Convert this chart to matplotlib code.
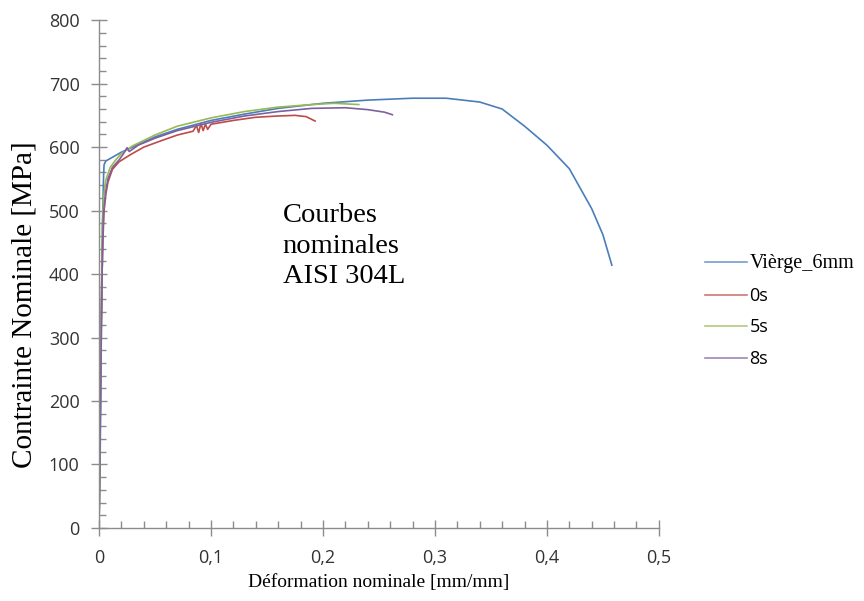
import matplotlib
matplotlib.use("Agg")
import matplotlib.pyplot as plt
from matplotlib.ticker import MultipleLocator, FuncFormatter

# Vièrge_6mm
x_vierge = [0, 0.001, 0.002, 0.003, 0.004, 0.0045, 0.006, 0.01, 0.015, 0.02, 0.025,
            0.035, 0.05, 0.07, 0.1, 0.13, 0.16, 0.2, 0.24, 0.28, 0.31, 0.34, 0.36,
            0.38, 0.4, 0.42, 0.44, 0.45, 0.458]
y_vierge = [0, 110, 300, 470, 550, 572, 578, 582, 587, 592, 596,
            604, 616, 628, 642, 652, 661, 669, 674, 677, 677, 671, 660,
            633, 603, 566, 503, 462, 414]

# 0s
x_0s = [0, 0.0015, 0.0025, 0.003, 0.0035, 0.0045, 0.006, 0.008, 0.012, 0.018, 0.028,
        0.04, 0.057, 0.07, 0.084, 0.087, 0.089, 0.091, 0.093, 0.095, 0.097, 0.1,
        0.12, 0.14, 0.16, 0.175, 0.185, 0.193]
y_0s = [0, 250, 400, 415, 455, 500, 525, 545, 565, 577, 588,
        600, 611, 619, 625, 634, 623, 637, 626, 636, 628, 636,
        642, 647, 649, 650, 648, 641]

# 5s
x_5s = [0, 0.002, 0.003, 0.004, 0.006, 0.01, 0.015, 0.02, 0.03, 0.05, 0.07, 0.1,
        0.13, 0.16, 0.19, 0.21, 0.232]
y_5s = [0, 330, 470, 520, 548, 568, 580, 590, 602, 619, 633, 646,
        656, 663, 667, 669, 667]

# 8s
x_8s = [0, 0.002, 0.003, 0.004, 0.006, 0.008, 0.012, 0.018, 0.022, 0.025, 0.027,
        0.035, 0.05, 0.07, 0.1, 0.13, 0.16, 0.19, 0.22, 0.24, 0.255, 0.262]
y_8s = [0, 300, 430, 495, 530, 550, 568, 580, 590, 599, 593,
        603, 614, 626, 639, 649, 656, 661, 662, 659, 655, 651]

fig = plt.figure(figsize=(8.64, 6.01), dpi=100)
ax = fig.add_axes([0.1146, 0.1215, 0.648, 0.845])

ax.plot(x_vierge, y_vierge, color="#4A7EBB", lw=1.2, label="Vièrge_6mm")
ax.plot(x_0s, y_0s, color="#BE4B48", lw=1.2, label="0s")
ax.plot(x_5s, y_5s, color="#98B954", lw=1.2, label="5s")
ax.plot(x_8s, y_8s, color="#7D60A0", lw=1.2, label="8s")

ax.set_xlim(0, 0.5)
ax.set_ylim(0, 800)
for s in ["top", "right"]:
    ax.spines[s].set_visible(False)
for s in ["left", "bottom"]:
    ax.spines[s].set_color("#8c8c8c")
    ax.spines[s].set_linewidth(1)

ax.xaxis.set_major_locator(MultipleLocator(0.1))
ax.xaxis.set_minor_locator(MultipleLocator(0.02))
ax.yaxis.set_major_locator(MultipleLocator(100))
ax.yaxis.set_minor_locator(MultipleLocator(20))
ax.xaxis.set_major_formatter(FuncFormatter(lambda v, p: ("%g" % round(v, 2)).replace(".", ",")))
ax.tick_params(which="major", direction="inout", length=12, color="#8c8c8c", width=1,
               labelsize=13, labelcolor="#333333")
ax.tick_params(which="minor", direction="in", length=5, color="#8c8c8c", width=1)
ax.tick_params(axis="x", pad=9)
ax.tick_params(axis="y", pad=8)
for lab in ax.get_xticklabels() + ax.get_yticklabels():
    lab.set_family("Open Sans")

ax.set_xlabel("Déformation nominale [mm/mm]", family="Liberation Serif", fontsize=14, labelpad=5)
ax.set_ylabel("Contrainte Nominale [MPa]", family="Liberation Serif", fontsize=21)
ax.yaxis.set_label_coords(-0.11, 0.439)

ax.text(0.328, 0.64, "Courbes\nnominales\nAISI 304L", transform=ax.transAxes,
        family="Liberation Serif", fontsize=20.5, linespacing=1.3, va="top")

leg = ax.legend(loc="center left", bbox_to_anchor=(1.07, 0.427), frameon=False,
                handlelength=2.3, labelspacing=0.75, handletextpad=0.15,
                borderaxespad=0, prop={"size": 13})
for i, t in enumerate(leg.get_texts()):
    if i == 0:
        t.set_family("Liberation Serif")
        t.set_fontsize(14.5)
    else:
        t.set_family("Open Sans")
        t.set_fontsize(13)
for ln in leg.get_lines():
    ln.set_alpha(0.75)

fig.savefig("out.png", dpi=100)
